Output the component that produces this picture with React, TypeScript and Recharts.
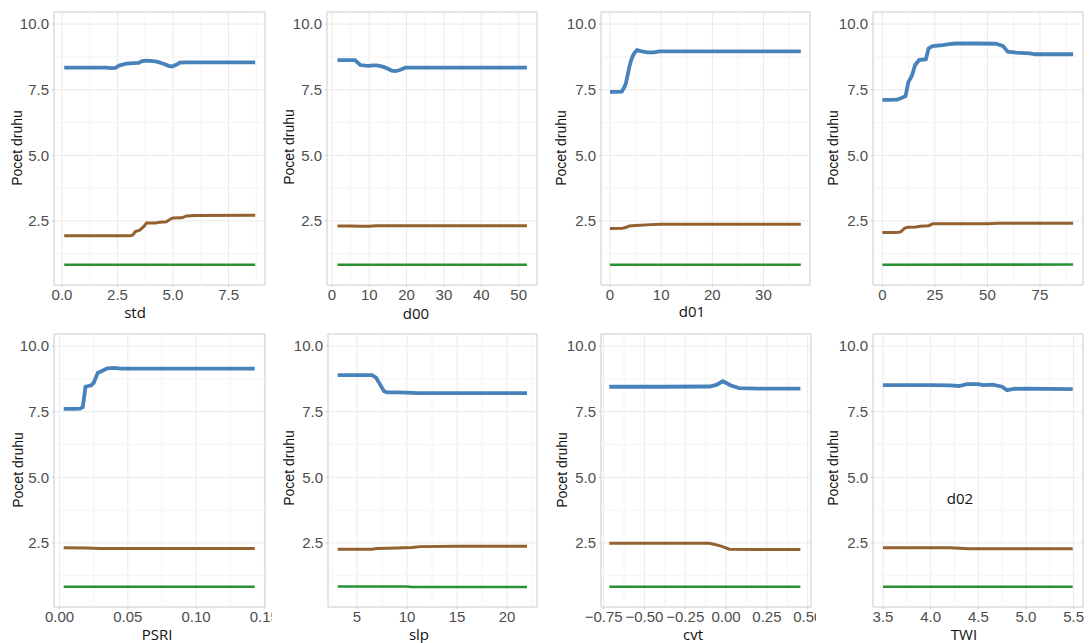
import React from 'react';
import { LineChart, Line, XAxis, YAxis, CartesianGrid, ReferenceLine, ReferenceArea } from 'recharts';

// ---------- data ----------
const yTicks = [2.5, 5, 7.5, 10];
const yMinor = [1.25, 3.75, 6.25, 8.75];
const yDomain: [number, number] = [0.06, 10.46];

// std
const stdBlueX = [0.1, 0.5, 1.0, 1.5, 2.0, 2.2, 2.4, 2.6, 2.9, 3.2, 3.45, 3.6, 3.8, 4.0, 4.27, 4.57, 4.8, 4.95, 5.17, 5.3, 5.6, 6.0, 7.0, 8.0, 8.7];
const stdBlueY = [8.34, 8.34, 8.34, 8.34, 8.34, 8.32, 8.33, 8.43, 8.49, 8.51, 8.52, 8.59, 8.61, 8.60, 8.57, 8.49, 8.41, 8.38, 8.46, 8.53, 8.54, 8.54, 8.54, 8.54, 8.54];
const stdBrownX = [0.1, 1.0, 2.0, 3.1, 3.2, 3.3, 3.5, 3.7, 3.8, 4.2, 4.4, 4.7, 4.9, 5.0, 5.4, 5.6, 6.0, 8.7];
const stdBrownY = [1.94, 1.94, 1.94, 1.94, 1.97, 2.1, 2.15, 2.3, 2.42, 2.42, 2.45, 2.47, 2.58, 2.61, 2.62, 2.69, 2.71, 2.72];
const stdGreenX = [0.1, 8.7];
const stdGreenY = [0.83, 0.83];

// d00
const d00BlueX = [1.5, 4, 6.2, 7.0, 7.6, 9, 10, 11, 12, 13, 14, 15, 16, 17, 18, 19, 19.7, 25, 35, 45, 52.2];
const d00BlueY = [8.63, 8.63, 8.63, 8.52, 8.44, 8.42, 8.41, 8.43, 8.43, 8.40, 8.36, 8.30, 8.23, 8.21, 8.24, 8.30, 8.34, 8.34, 8.34, 8.34, 8.34];
const d00BrownX = [1.5, 5, 8, 10, 12, 20, 52.2];
const d00BrownY = [2.31, 2.31, 2.30, 2.30, 2.32, 2.32, 2.32];
const d00GreenX = [1.5, 52.2];
const d00GreenY = [0.83, 0.83];

// d01
const d01BlueX = [0, 1, 2.3, 2.8, 3.1, 3.5, 3.8, 4.1, 4.4, 4.8, 5.3, 6.0, 7.3, 8.6, 9.6, 15, 25, 37.3];
const d01BlueY = [7.42, 7.42, 7.43, 7.6, 7.74, 8.1, 8.38, 8.6, 8.76, 8.9, 9.01, 8.97, 8.92, 8.92, 8.96, 8.96, 8.96, 8.96];
const d01BrownX = [0, 2.5, 3.2, 3.8, 5, 8, 10, 20, 37.3];
const d01BrownY = [2.21, 2.22, 2.26, 2.31, 2.33, 2.36, 2.37, 2.37, 2.37];
const d01GreenX = [0, 37.3];
const d01GreenY = [0.83, 0.83];

// d02
const d02BlueX = [0, 4, 7, 9, 11, 12.4, 14, 15.6, 17.5, 19.4, 20.7, 22, 23.9, 28.7, 31.8, 35, 45, 54, 57.3, 59.7, 63.7, 70, 73, 80, 90.8];
const d02BlueY = [7.11, 7.11, 7.12, 7.18, 7.25, 7.8, 8.02, 8.44, 8.63, 8.65, 8.66, 9.07, 9.16, 9.2, 9.24, 9.26, 9.26, 9.25, 9.17, 8.95, 8.91, 8.88, 8.85, 8.85, 8.85];
const d02BrownX = [0, 5, 8, 9, 10.5, 12, 16, 18, 22, 24, 50, 55, 90.8];
const d02BrownY = [2.06, 2.06, 2.07, 2.1, 2.22, 2.26, 2.27, 2.3, 2.32, 2.39, 2.39, 2.41, 2.41];
const d02GreenX = [0, 90.8];
const d02GreenY = [0.83, 0.84];

// PSRI
const psriBlueX = [0.003, 0.010, 0.015, 0.017, 0.019, 0.021, 0.023, 0.025, 0.028, 0.031, 0.035, 0.040, 0.045, 0.07, 0.10, 0.143];
const psriBlueY = [7.61, 7.61, 7.62, 7.68, 8.45, 8.48, 8.5, 8.6, 8.98, 9.05, 9.15, 9.17, 9.14, 9.14, 9.14, 9.14];
const psriBrownX = [0.003, 0.02, 0.03, 0.143];
const psriBrownY = [2.32, 2.31, 2.29, 2.29];
const psriGreenX = [0.003, 0.143];
const psriGreenY = [0.83, 0.83];

// slp
const slpBlueX = [3.07, 5, 6.5, 6.9, 7.3, 7.7, 8.0, 9, 10, 11, 15, 22.0];
const slpBlueY = [8.89, 8.89, 8.89, 8.8, 8.54, 8.28, 8.24, 8.24, 8.23, 8.21, 8.21, 8.21];
const slpBrownX = [3.07, 6.5, 7, 9, 10.5, 11.3, 15, 22];
const slpBrownY = [2.26, 2.26, 2.29, 2.31, 2.33, 2.36, 2.37, 2.37];
const slpGreenX = [3.07, 10, 10.5, 22];
const slpGreenY = [0.84, 0.84, 0.82, 0.82];

// cvt
const cvtBlueX = [-0.715, -0.4, -0.1, -0.06, -0.02, 0.03, 0.08, 0.2, 0.455];
const cvtBlueY = [8.45, 8.45, 8.46, 8.52, 8.66, 8.5, 8.4, 8.38, 8.38];
const cvtBrownX = [-0.715, -0.4, -0.1, -0.03, 0.02, 0.2, 0.455];
const cvtBrownY = [2.49, 2.49, 2.49, 2.38, 2.26, 2.25, 2.25];
const cvtGreenX = [-0.715, 0.455];
const cvtGreenY = [0.83, 0.83];

// TWI
const twiBlueX = [3.5, 4.0, 4.2, 4.3, 4.38, 4.5, 4.55, 4.65, 4.75, 4.8, 4.87, 5.0, 5.49];
const twiBlueY = [8.51, 8.51, 8.50, 8.48, 8.55, 8.55, 8.51, 8.53, 8.45, 8.32, 8.37, 8.38, 8.36];
const twiBrownX = [3.5, 4.2, 4.3, 4.4, 5.49];
const twiBrownY = [2.32, 2.32, 2.30, 2.28, 2.28];
const twiGreenX = [3.5, 5.49];
const twiGreenY = [0.83, 0.83];

// tick labels / axis values
const stdTicks = [0, 2.5, 5, 7.5];
const stdMinor = [1.25, 3.75, 6.25, 8.75];
const d00Ticks = [0, 10, 20, 30, 40, 50];
const d00Minor = [5, 15, 25, 35, 45];
const d01Ticks = [0, 10, 20, 30];
const d01Minor = [5, 15, 25, 35];
const d02Ticks = [0, 25, 50, 75];
const d02Minor = [12.5, 37.5, 62.5, 87.5];
const psriTicks = [0, 0.05, 0.1, 0.15];
const psriMinor = [0.025, 0.075, 0.125];
const slpTicks = [5, 10, 15, 20];
const slpMinor = [2.5, 7.5, 12.5, 17.5, 22.5];
const cvtTicks = [-0.75, -0.5, -0.25, 0, 0.25, 0.5];
const cvtMinor = [-0.625, -0.375, -0.125, 0.125, 0.375];
const twiTicks = [3.5, 4.0, 4.5, 5.0, 5.5];
const twiMinor = [3.75, 4.25, 4.75, 5.25];

const yTitle = 'Pocet druhu';

// ---------- styling ----------
const BLUE = '#4782BA';
const BROWN = '#93602F';
const GREEN = '#2A9034';
const TICK_FONT = "'Liberation Sans', Arial, sans-serif";
const TITLE_FONT = "'Open Sans', 'Liberation Sans', sans-serif";

const rows = (xs: number[], ys: number[]) => xs.map((x, i) => ({ x, y: ys[i] }));

type PanelCfg = {
  cell: [number, number, number, number];
  plot: [number, number, number, number];
  xDomain: [number, number];
  xTicks: number[];
  xMinor: number[];
  fmt: (v: number) => string;
  blue: [number[], number[]];
  brown: [number[], number[]];
  green: [number[], number[]];
  title?: string;
  titlePos?: [number, number];
  yTitlePos: [number, number];
};

const minus = (s: string) => s.replace('-', '\u2212');
const f1 = (v: number) => minus(v.toFixed(1));
const f0 = (v: number) => minus(String(Math.round(v)));
const f2 = (v: number) => minus(v.toFixed(2));

const panels: PanelCfg[] = [
  { cell: [0, 0, 272, 321], plot: [54, 12, 265, 285], xDomain: [-0.36, 9.14], xTicks: stdTicks, xMinor: stdMinor, fmt: f1,
    blue: [stdBlueX, stdBlueY], brown: [stdBrownX, stdBrownY], green: [stdGreenX, stdGreenY], title: 'std', titlePos: [135, 312], yTitlePos: [17, 148] },
  { cell: [272, 0, 272, 321], plot: [327, 12, 537, 285], xDomain: [-1.3, 54.9], xTicks: d00Ticks, xMinor: d00Minor, fmt: f0,
    blue: [d00BlueX, d00BlueY], brown: [d00BrownX, d00BrownY], green: [d00GreenX, d00GreenY], title: 'd00', titlePos: [416, 313], yTitlePos: [289, 147] },
  { cell: [544, 0, 272, 321], plot: [601, 12, 810, 285], xDomain: [-1.76, 39.1], xTicks: d01Ticks, xMinor: d01Minor, fmt: f0,
    blue: [d01BlueX, d01BlueY], brown: [d01BrownX, d01BrownY], green: [d01GreenX, d01GreenY], title: 'd01', titlePos: [692, 311], yTitlePos: [561, 148] },
  { cell: [816, 0, 273, 321], plot: [873, 12, 1083, 285], xDomain: [-4.46, 95.5], xTicks: d02Ticks, xMinor: d02Minor, fmt: f0,
    blue: [d02BlueX, d02BlueY], brown: [d02BrownX, d02BrownY], green: [d02GreenX, d02GreenY], yTitlePos: [833, 148] },
  { cell: [0, 321, 272, 322], plot: [54, 334, 265, 607], xDomain: [-0.0041, 0.1505], xTicks: psriTicks, xMinor: psriMinor, fmt: f2,
    blue: [psriBlueX, psriBlueY], brown: [psriBrownX, psriBrownY], green: [psriGreenX, psriGreenY], title: 'PSRI', titlePos: [157, 634], yTitlePos: [18, 470] },
  { cell: [272, 321, 272, 322], plot: [328, 334, 537, 607], xDomain: [2.1, 23.0], xTicks: slpTicks, xMinor: slpMinor, fmt: f0,
    blue: [slpBlueX, slpBlueY], brown: [slpBrownX, slpBrownY], green: [slpGreenX, slpGreenY], title: 'slp', titlePos: [419, 634], yTitlePos: [289, 468] },
  { cell: [544, 321, 272, 322], plot: [601, 334, 811, 607], xDomain: [-0.766, 0.52], xTicks: cvtTicks, xMinor: cvtMinor, fmt: f2,
    blue: [cvtBlueX, cvtBlueY], brown: [cvtBrownX, cvtBrownY], green: [cvtGreenX, cvtGreenY], title: 'cvt', titlePos: [693, 634], yTitlePos: [562, 470] },
  { cell: [816, 321, 273, 322], plot: [873, 334, 1083, 607], xDomain: [3.395, 5.598], xTicks: twiTicks, xMinor: twiMinor, fmt: f1,
    blue: [twiBlueX, twiBlueY], brown: [twiBrownX, twiBrownY], green: [twiGreenX, twiGreenY], title: 'TWI', titlePos: [964, 634], yTitlePos: [833, 468] },
];

const Y_W = 40;
const X_H = 30;

function Panel({ p }: { p: PanelCfg }) {
  const [cx, cy, cw, ch] = p.cell;
  const [L, T, R, B] = p.plot;
  const margin = { top: T - cy, right: cx + cw - R, bottom: cy + ch - B - X_H, left: L - cx - Y_W };
  const tickStyle = { fontSize: 15, fill: '#4D4D4D', fontFamily: TICK_FONT };
  return (
    <div style={{ position: 'absolute', left: cx, top: cy, width: cw, height: ch, overflow: 'hidden' }}>
      <LineChart width={cw} height={ch} margin={margin}>
        {p.xMinor.map((v) => (
          <ReferenceLine key={'xm' + v} x={v} stroke="#F4F4F4" strokeWidth={1} ifOverflow="hidden" />
        ))}
        {yMinor.map((v) => (
          <ReferenceLine key={'ym' + v} y={v} stroke="#F4F4F4" strokeWidth={1} ifOverflow="hidden" />
        ))}
        <CartesianGrid stroke="#EAEAEA" strokeWidth={1} />
        <XAxis
          dataKey="x"
          type="number"
          domain={p.xDomain}
          allowDataOverflow
          ticks={p.xTicks}
          tickFormatter={p.fmt}
          interval={0}
          height={X_H}
          tick={tickStyle}
          tickSize={2}
          tickMargin={2}
          tickLine={{ stroke: '#C8C8C8' }}
          axisLine={false}
        />
        <YAxis
          type="number"
          domain={yDomain}
          allowDataOverflow
          ticks={yTicks}
          tickFormatter={f1}
          interval={0}
          width={Y_W}
          tick={tickStyle}
          tickSize={2}
          tickMargin={3}
          tickLine={{ stroke: '#C8C8C8' }}
          axisLine={false}
        />
        <ReferenceArea x1={p.xDomain[0]} x2={p.xDomain[1]} y1={yDomain[0]} y2={yDomain[1]} fill="none" fillOpacity={0} stroke="#D4D4D4" strokeWidth={1} />
        <Line data={rows(p.green[0], p.green[1])} dataKey="y" type="linear" dot={false} stroke={GREEN} strokeWidth={2.6} isAnimationActive={false} />
        <Line data={rows(p.brown[0], p.brown[1])} dataKey="y" type="linear" dot={false} stroke={BROWN} strokeWidth={3} isAnimationActive={false} />
        <Line data={rows(p.blue[0], p.blue[1])} dataKey="y" type="linear" dot={false} stroke={BLUE} strokeWidth={3.8} isAnimationActive={false} />
      </LineChart>
    </div>
  );
}

export default function App() {
  return (
    <div style={{ position: 'absolute', left: 0, top: 0, width: 1089, height: 643, overflow: 'hidden', background: '#FFFFFF' }}>
      {panels.map((p, i) => (
        <Panel key={i} p={p} />
      ))}
      {panels.map((p, i) => (
        <div
          key={'yt' + i}
          style={{
            position: 'absolute',
            left: p.yTitlePos[0] - 60,
            top: p.yTitlePos[1] - 10,
            width: 120,
            height: 20,
            lineHeight: '20px',
            textAlign: 'center',
            transform: 'rotate(-90deg)',
            fontFamily: TICK_FONT,
            fontSize: 14,
            color: '#111111',
            whiteSpace: 'nowrap',
          }}
        >
          {yTitle}
        </div>
      ))}
      {panels.map((p, i) =>
        p.title && p.titlePos ? (
          <div
            key={'xt' + i}
            style={{
              position: 'absolute',
              left: p.titlePos[0] - 50,
              top: p.titlePos[1] - 8,
              width: 100,
              height: 17,
              lineHeight: '17px',
              textAlign: 'center',
              fontFamily: TITLE_FONT,
              fontSize: 15,
              color: '#111111',
              whiteSpace: 'nowrap',
            }}
          >
            {p.title}
          </div>
        ) : null
      )}
      <div
        style={{
          position: 'absolute',
          left: 960 - 40,
          top: 498 - 11,
          width: 80,
          height: 22,
          lineHeight: '22px',
          textAlign: 'center',
          fontFamily: TITLE_FONT,
          fontSize: 15,
          color: '#111111',
        }}
      >
        d02
      </div>
    </div>
  );
}
